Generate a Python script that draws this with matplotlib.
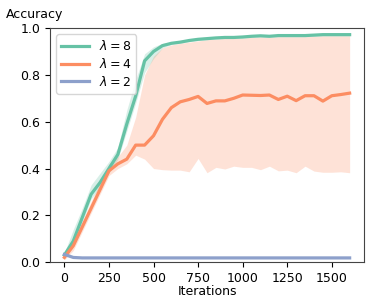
import numpy as np
import matplotlib
matplotlib.use('Agg')
import matplotlib.pyplot as plt

# iterations, one point every 50 steps
iterations = np.arange(0, 1650, 50)

acc_l8 = [0.03, 0.09, 0.19, 0.29, 0.34, 0.40, 0.46, 0.59, 0.71, 0.86, 0.90, 0.925,
          0.935, 0.94, 0.947, 0.952, 0.955, 0.958, 0.96, 0.96, 0.962, 0.965, 0.967,
          0.965, 0.968, 0.968, 0.968, 0.968, 0.97, 0.972, 0.972, 0.972, 0.972]
lo_l8 = [0.02, 0.07, 0.17, 0.27, 0.32, 0.38, 0.44, 0.56, 0.68, 0.81, 0.87, 0.915,
         0.93, 0.935, 0.942, 0.947, 0.95, 0.953, 0.955, 0.955, 0.957, 0.96, 0.962,
         0.96, 0.963, 0.963, 0.963, 0.963, 0.965, 0.967, 0.967, 0.967, 0.967]
hi_l8 = [0.04, 0.14, 0.23, 0.33, 0.38, 0.43, 0.49, 0.65, 0.78, 0.89, 0.92, 0.935,
         0.94, 0.945, 0.952, 0.957, 0.96, 0.963, 0.965, 0.965, 0.967, 0.97, 0.972,
         0.97, 0.973, 0.973, 0.973, 0.973, 0.975, 0.977, 0.977, 0.977, 0.977]

acc_l4 = [0.02, 0.07, 0.15, 0.23, 0.31, 0.39, 0.42, 0.44, 0.50, 0.50, 0.54, 0.61,
          0.66, 0.685, 0.695, 0.708, 0.678, 0.689, 0.689, 0.70, 0.714, 0.713, 0.712,
          0.714, 0.695, 0.709, 0.69, 0.711, 0.711, 0.688, 0.711, 0.716, 0.722]
lo_l4 = [0.01, 0.05, 0.13, 0.21, 0.29, 0.37, 0.40, 0.42, 0.457, 0.44, 0.40, 0.395,
         0.393, 0.393, 0.386, 0.443, 0.382, 0.405, 0.398, 0.41, 0.405, 0.405, 0.395,
         0.41, 0.39, 0.393, 0.382, 0.41, 0.389, 0.384, 0.384, 0.386, 0.382]
hi_l4 = [0.03, 0.09, 0.17, 0.26, 0.34, 0.42, 0.45, 0.50, 0.62, 0.80, 0.88, 0.915,
         0.928, 0.935, 0.94, 0.945, 0.95, 0.953, 0.955, 0.955, 0.957, 0.96, 0.962,
         0.96, 0.963, 0.963, 0.963, 0.963, 0.965, 0.967, 0.967, 0.967, 0.967]

acc_l2 = [0.033, 0.02] + [0.018] * 31

series = [
    (r'$\lambda = 8$', acc_l8, lo_l8, hi_l8, '#66c2a5'),
    (r'$\lambda = 4$', acc_l4, lo_l4, hi_l4, '#fc8d62'),
    (r'$\lambda = 2$', acc_l2, acc_l2, acc_l2, '#8da0cb'),
]

plt.rcParams['font.size'] = 9

fig = plt.figure(figsize=(3.74, 3.02), dpi=100)
ax = fig.add_axes([0.134, 0.132, 0.839, 0.775])

for label, mean, lo, hi, color in series:
    ax.fill_between(iterations, lo, hi, color=color, alpha=0.25, lw=0)
    ax.plot(iterations, mean, color=color, lw=2.3, label=label)

ax.set_xlim(-80, 1680)
ax.set_ylim(0, 1.0)
ax.set_xticks([0, 250, 500, 750, 1000, 1250, 1500])
ax.set_yticks([0.0, 0.2, 0.4, 0.6, 0.8, 1.0])
ax.set_xlabel('Iterations', labelpad=0)
ax.text(-0.14, 1.045, 'Accuracy', transform=ax.transAxes, fontsize=9)
for s in ax.spines.values():
    s.set_color('#444444')

ax.legend(loc='upper left', handlelength=2.2, borderpad=0.4, labelspacing=0.3)

fig.savefig('out.png', dpi=100)
